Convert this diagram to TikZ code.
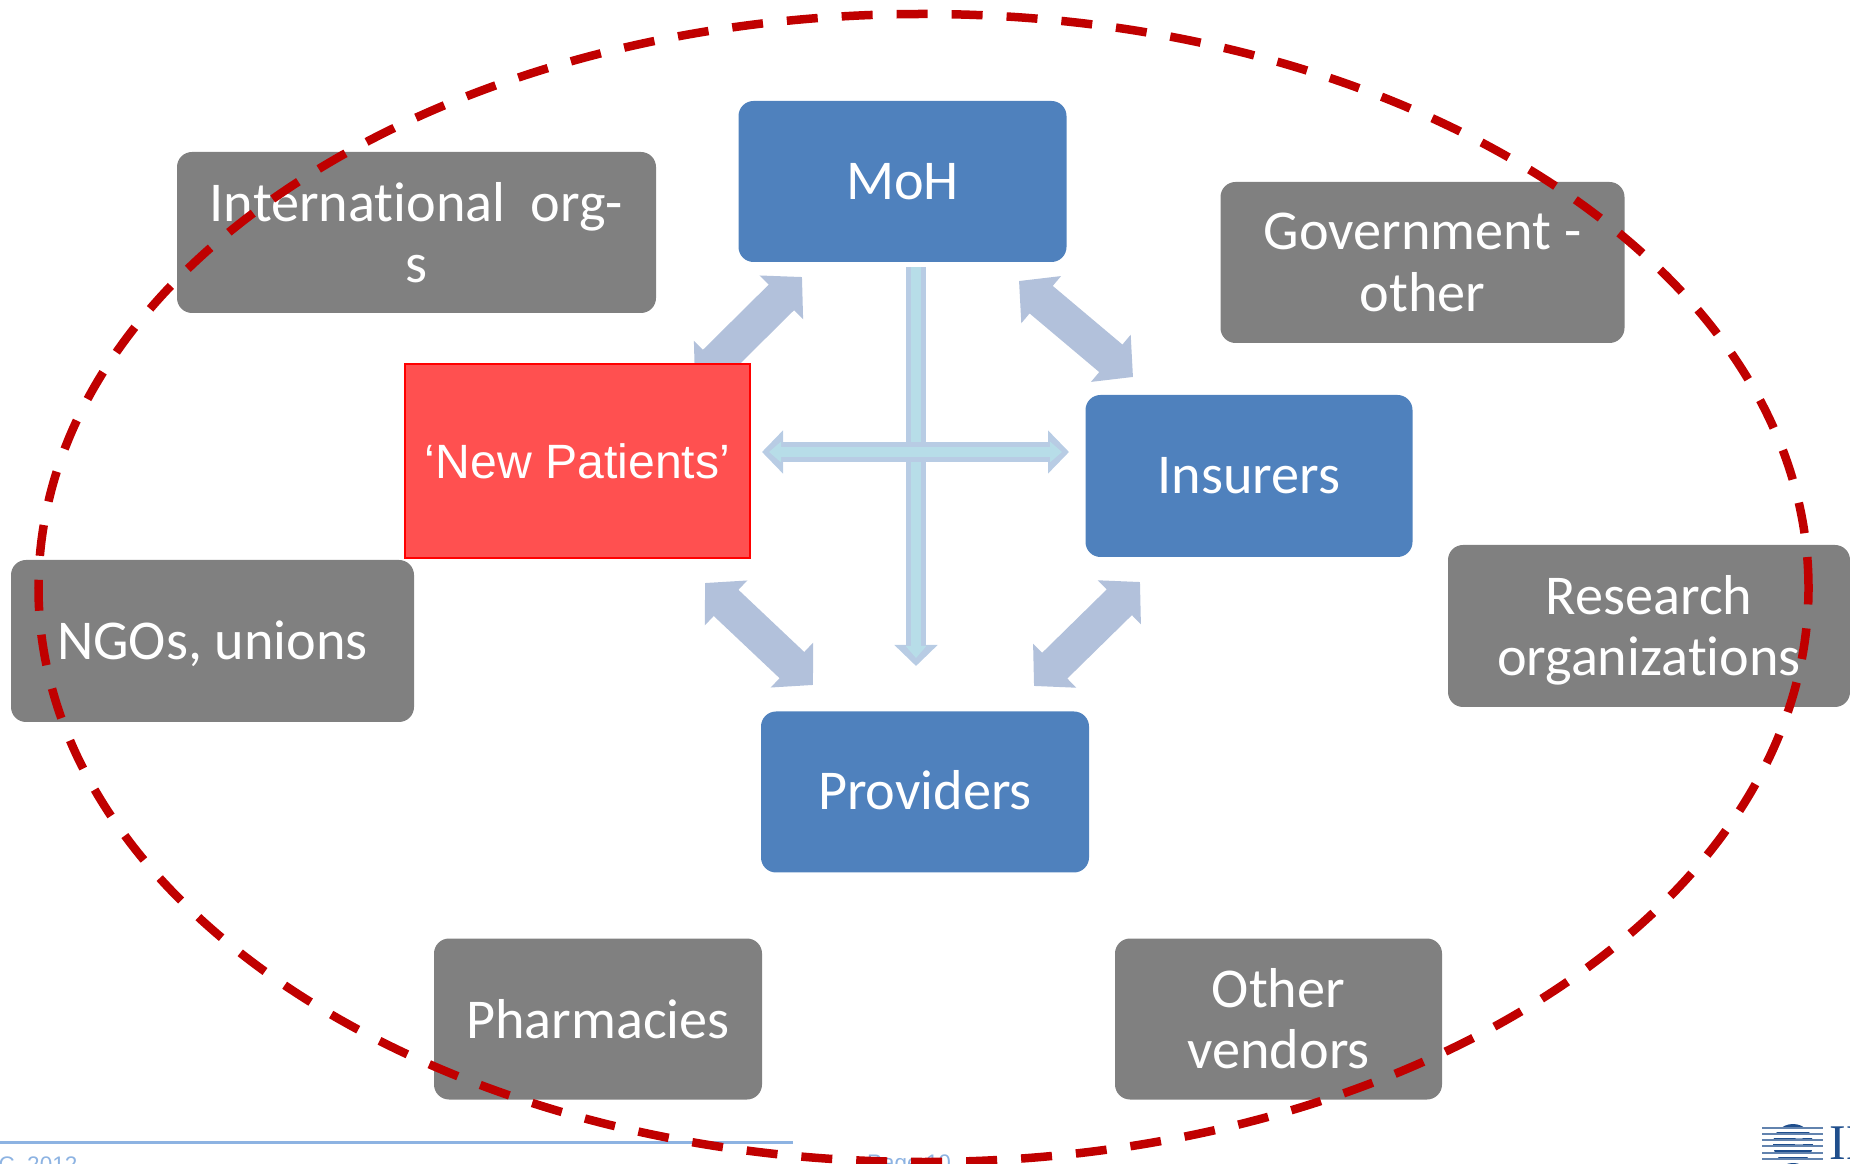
\documentclass[tikz,border=0pt]{standalone}
\usepackage{fontspec}
\setmainfont[Ligatures=NoCommon]{Carlito}
\newfontfamily\arialfont{Liberation Sans}
\newfontfamily\logofont{Liberation Serif}
\usetikzlibrary{arrows.meta}

\definecolor{boxblue}{HTML}{4F81BD}
\definecolor{boxgray}{HTML}{808080}
\definecolor{boxred}{HTML}{FF5050}
\definecolor{ringred}{HTML}{C00000}
\definecolor{linkblue}{HTML}{B2C1DB}
\definecolor{crossedge}{HTML}{B8CCE4}
\definecolor{crossfill}{HTML}{B7DDE8}
\definecolor{footblue}{HTML}{8DB3E2}
\definecolor{logoblue}{HTML}{1F4E8C}

\begin{document}
\begin{tikzpicture}[
  box/.style={rounded corners=0.15cm, inner sep=0pt, align=center, text=white, font=\fontsize{16}{17.4}\selectfont, minimum height=1.61cm},
  mainbox/.style={box, fill=boxblue, minimum width=3.28cm},
  sidebox/.style={box, fill=boxgray},
  dropped/.style={execute at begin node=\rule{0pt}{#1}},
  raised/.style={execute at begin node=\rule[-#1]{0pt}{1pt}},
  link/.style={linkblue, line width=0.36cm, {Triangle[width=0.60cm,length=0.29cm]}-{Triangle[width=0.60cm,length=0.29cm]}},
  footer/.style={text=footblue, font=\arialfont\fontsize{6.4}{8}\selectfont, inner sep=0pt, anchor=base}
]
\useasboundingbox (0,0) rectangle (18.5,-11.64);
\clip (0,0) rectangle (18.5,-11.64);

% footer
\coordinate (rulestart) at (0,-11.42);
\coordinate (ruleend) at (7.93,-11.42);
\draw[footblue, line width=0.03cm] (rulestart) -- (ruleend);
\node[footer, anchor=base east] (footdate) at (0.78,-11.72) {OC, 2012};
\node[footer] (footpage) at (9.09,-11.70) {Page 10};

% logo
\fill[logoblue] (17.93,-11.44) circle (0.2);
\fill[white, opacity=0.5] (17.99,-11.42) circle (0.05);
\foreach \y in {-11.27,-11.33,-11.39,-11.45,-11.52,-11.58} {
  \fill[logoblue!70] (17.62,\y) rectangle (18.23,\y-0.02);
  \fill[white] (17.62,\y-0.02) rectangle (18.23,\y-0.045);
}
\node[text=logoblue, font=\logofont\fontsize{14.2}{16}\selectfont, inner sep=0pt, anchor=base west] (logotext) at (18.29,-11.59) {IBM};

% arrows between the main boxes
\coordinate (pm1) at (6.95,-3.83);
\coordinate (pm2) at (8.02,-2.77);
\coordinate (mi1) at (10.19,-2.81);
\coordinate (mi2) at (11.33,-3.77);
\coordinate (pp1) at (7.05,-5.83);
\coordinate (pp2) at (8.13,-6.85);
\coordinate (ip1) at (11.40,-5.82);
\coordinate (ip2) at (10.34,-6.86);
\draw[link] (pm1) -- (pm2);
\draw[link] (mi1) -- (mi2);
\draw[link] (pp1) -- (pp2);
\draw[link] (ip1) -- (ip2);

% cross in the middle
\coordinate (downstart) at (9.16,-2.67);
\coordinate (downend) at (9.16,-6.66);
\coordinate (crossleft) at (7.62,-4.52);
\coordinate (crossright) at (10.69,-4.52);
\draw[crossedge, line width=0.20cm, -{Triangle[width=0.42cm,length=0.21cm]}] (downstart) -- (downend);
\draw[crossfill, line width=0.10cm, -{Triangle[width=0.2cm,length=0.12cm]}] (downstart) -- (9.16,-6.58);
\draw[crossedge, line width=0.20cm, {Triangle[width=0.42cm,length=0.21cm]}-{Triangle[width=0.42cm,length=0.21cm]}] (crossleft) -- (crossright);
\draw[crossfill, line width=0.10cm, {Triangle[width=0.2cm,length=0.12cm]}-{Triangle[width=0.2cm,length=0.12cm]}] (7.69,-4.52) -- (10.62,-4.52);

% main boxes
\node[mainbox] (moh) at (9.025,-1.815) {MoH};
\node[mainbox, minimum width=3.27cm, minimum height=1.62cm] (insurers) at (12.49,-4.76) {Insurers};
\node[mainbox, raised=1.2pt] (providers) at (9.25,-7.92) {Providers};
\node[draw=red, line width=0.015cm, fill=boxred, text=white, minimum width=3.45cm, minimum height=1.94cm, inner sep=0pt, font=\arialfont\fontsize{13.7}{16}\selectfont] (patients) at (5.775,-4.61) {‘New Patients’};

% boxes around them
\node[sidebox, minimum width=4.79cm] (intl) at (4.165,-2.325) {International\ \ org-\\s};
\node[sidebox, minimum width=4.04cm] (govt) at (14.225,-2.625) {Government -\\other};
\node[sidebox, minimum width=4.03cm, minimum height=1.62cm, dropped=12.8pt] (ngos) at (2.125,-6.41) {NGOs, unions};
\node[sidebox, minimum width=4.02cm, minimum height=1.62cm] (research) at (16.49,-6.26) {\rule{0pt}{13.4pt}Research\\organizations};
\node[sidebox, minimum width=3.28cm] (pharmacies) at (5.98,-10.19) {Pharmacies};
\node[sidebox, minimum width=3.27cm] (vendors) at (12.785,-10.19) {Other\\vendors};

% dashed ring
\draw[ringred, line width=0.085cm, dash pattern=on 0.31cm off 0.24cm] (9.235,-5.88) ellipse (8.85 and 5.74);
\end{tikzpicture}
\end{document}
